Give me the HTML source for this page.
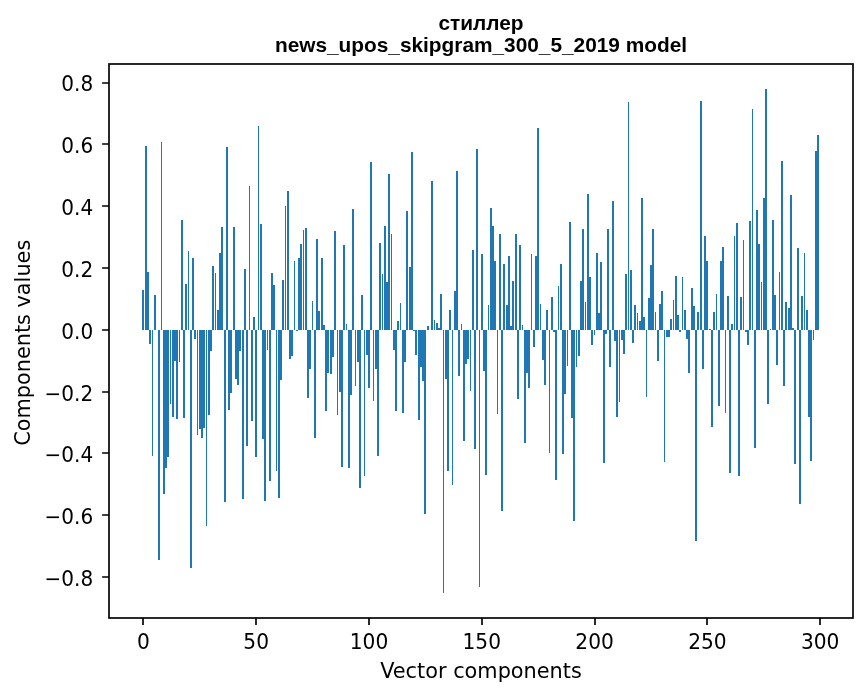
<!DOCTYPE html>
<html lang="ru"><head><meta charset="utf-8"><title>стиллер</title>
<style>html,body{margin:0;padding:0;background:#fff}svg{display:block;will-change:transform}.t{font-family:"DejaVu Sans","Liberation Sans",sans-serif;font-size:20.83px;fill:#000}.h{font-family:"Liberation Sans","DejaVu Sans",sans-serif;font-weight:bold;font-size:20.83px;fill:#000}</style></head><body>
<svg width="867" height="696" viewBox="0 0 867 696">
<rect width="867" height="696" fill="#fff"/>
<path fill="#1f77b4" shape-rendering="crispEdges" d="M142 290h2v40h-2zM145 146h2v184h-2zM147 272h2v58h-2zM149 330h2v14h-2zM152 330h1v126h-1zM154 295h2v35h-2zM158 330h2v230h-2zM161 142h1v188h-1zM163 330h2v164h-2zM165 330h2v138h-2zM167 330h2v127h-2zM170 330h1v74h-1zM172 330h2v87h-2zM174 330h2v31h-2zM176 330h2v89h-2zM179 330h1v32h-1zM181 220h2v110h-2zM183 330h2v88h-2zM185 284h2v46h-2zM188 251h1v79h-1zM190 330h2v238h-2zM192 258h2v72h-2zM194 330h2v9h-2zM197 330h1v105h-1zM199 330h2v99h-2zM201 330h2v108h-2zM203 330h2v98h-2zM206 330h1v196h-1zM208 330h2v85h-2zM210 330h2v21h-2zM212 266h2v64h-2zM215 273h1v57h-1zM217 310h2v20h-2zM219 253h2v77h-2zM221 227h2v103h-2zM224 330h2v172h-2zM226 147h2v183h-2zM228 330h2v80h-2zM230 330h2v63h-2zM233 227h2v103h-2zM235 330h2v49h-2zM237 330h2v55h-2zM239 330h2v21h-2zM242 330h2v169h-2zM244 269h2v61h-2zM246 330h2v116h-2zM249 186h1v144h-1zM251 330h2v91h-2zM253 317h2v13h-2zM255 330h2v127h-2zM258 126h1v204h-1zM260 224h2v106h-2zM262 330h2v109h-2zM264 330h2v171h-2zM267 330h1v20h-1zM269 330h2v151h-2zM271 273h2v57h-2zM273 285h2v45h-2zM276 330h1v141h-1zM278 330h2v168h-2zM280 330h2v50h-2zM282 280h2v50h-2zM285 206h1v124h-1zM287 191h2v139h-2zM289 330h2v29h-2zM291 330h2v26h-2zM294 261h1v69h-1zM296 330h2v1h-2zM298 258h2v72h-2zM300 244h2v86h-2zM303 230h1v100h-1zM305 228h2v102h-2zM307 330h2v68h-2zM309 330h2v39h-2zM312 301h1v29h-1zM314 330h2v108h-2zM316 239h2v91h-2zM318 311h2v19h-2zM321 258h2v72h-2zM323 325h2v5h-2zM325 330h2v81h-2zM327 330h2v43h-2zM330 330h2v44h-2zM332 330h2v27h-2zM334 231h2v99h-2zM337 330h1v85h-1zM339 330h2v62h-2zM341 330h2v137h-2zM343 245h2v85h-2zM346 324h1v6h-1zM348 330h2v138h-2zM350 330h2v65h-2zM352 209h2v121h-2zM355 330h1v56h-1zM357 330h2v32h-2zM359 330h2v158h-2zM361 295h2v35h-2zM364 330h1v146h-1zM366 330h2v25h-2zM368 330h2v58h-2zM370 162h2v168h-2zM373 330h1v71h-1zM375 330h2v39h-2zM377 330h2v126h-2zM379 243h2v87h-2zM382 274h1v56h-1zM384 226h2v104h-2zM386 282h2v48h-2zM388 174h2v156h-2zM391 234h1v96h-1zM393 330h2v20h-2zM395 330h2v81h-2zM397 321h2v9h-2zM400 303h1v27h-1zM402 330h2v83h-2zM404 330h2v32h-2zM406 211h2v119h-2zM409 267h2v63h-2zM411 152h2v178h-2zM413 330h2v1h-2zM415 330h2v25h-2zM418 330h2v90h-2zM420 330h2v37h-2zM422 330h2v51h-2zM424 330h2v184h-2zM427 326h2v4h-2zM431 181h2v149h-2zM434 320h1v10h-1zM436 323h2v7h-2zM438 328h2v2h-2zM440 294h2v36h-2zM443 330h1v263h-1zM445 330h2v49h-2zM447 330h2v141h-2zM449 310h2v20h-2zM452 330h1v155h-1zM454 291h2v39h-2zM456 171h2v159h-2zM458 330h2v46h-2zM461 324h1v6h-1zM463 330h2v111h-2zM465 330h2v34h-2zM467 330h2v29h-2zM470 330h1v61h-1zM472 250h2v80h-2zM474 330h2v119h-2zM476 149h2v181h-2zM479 330h1v257h-1zM481 254h2v76h-2zM483 330h2v41h-2zM485 330h2v145h-2zM488 305h1v25h-1zM490 208h2v122h-2zM492 226h2v104h-2zM494 261h2v69h-2zM497 330h1v84h-1zM499 234h2v96h-2zM501 330h2v181h-2zM503 264h2v66h-2zM506 305h2v25h-2zM508 256h2v74h-2zM510 326h2v4h-2zM512 281h2v49h-2zM515 234h2v96h-2zM517 330h2v69h-2zM519 245h2v85h-2zM522 325h1v5h-1zM524 330h2v113h-2zM526 330h2v43h-2zM528 330h2v58h-2zM531 254h1v76h-1zM533 330h2v17h-2zM535 256h2v74h-2zM537 128h2v202h-2zM540 304h1v26h-1zM542 330h2v30h-2zM544 330h2v55h-2zM546 310h2v20h-2zM549 330h1v123h-1zM551 297h2v33h-2zM553 330h2v2h-2zM555 330h2v150h-2zM558 286h1v44h-1zM560 264h2v66h-2zM562 330h2v124h-2zM564 330h2v64h-2zM567 330h1v36h-1zM569 222h2v108h-2zM571 330h2v88h-2zM573 330h2v191h-2zM576 330h1v37h-1zM578 330h2v26h-2zM580 281h2v49h-2zM582 229h2v101h-2zM585 302h1v28h-1zM587 194h2v136h-2zM589 277h2v53h-2zM591 330h2v15h-2zM594 330h1v5h-1zM596 253h2v77h-2zM598 313h2v17h-2zM600 262h2v68h-2zM603 330h2v133h-2zM605 330h2v4h-2zM607 229h2v101h-2zM609 330h2v37h-2zM612 201h2v129h-2zM614 330h2v11h-2zM616 330h2v87h-2zM619 330h1v72h-1zM621 330h2v10h-2zM623 330h2v24h-2zM625 274h2v56h-2zM628 102h1v228h-1zM630 270h2v60h-2zM632 330h2v13h-2zM634 305h2v25h-2zM637 313h1v17h-1zM639 321h2v9h-2zM641 198h2v132h-2zM643 317h2v13h-2zM646 330h1v67h-1zM648 298h2v32h-2zM650 265h2v65h-2zM652 229h2v101h-2zM655 312h1v18h-1zM657 330h2v31h-2zM659 304h2v26h-2zM661 291h2v39h-2zM664 330h1v132h-1zM666 330h2v7h-2zM668 330h2v7h-2zM670 319h2v11h-2zM673 300h1v30h-1zM675 276h2v54h-2zM677 315h2v15h-2zM679 330h2v2h-2zM682 277h1v53h-1zM684 310h2v20h-2zM686 330h2v9h-2zM688 330h2v43h-2zM691 288h2v42h-2zM693 306h2v24h-2zM695 330h2v211h-2zM697 312h2v18h-2zM700 101h2v229h-2zM702 330h2v39h-2zM704 236h2v94h-2zM706 261h2v69h-2zM709 329h2v1h-2zM711 330h2v97h-2zM713 312h2v18h-2zM716 294h1v36h-1zM718 330h2v76h-2zM720 261h2v69h-2zM722 247h2v83h-2zM725 330h1v83h-1zM727 296h2v34h-2zM729 330h2v143h-2zM731 324h2v6h-2zM734 236h1v94h-1zM736 223h2v107h-2zM738 330h2v146h-2zM740 297h2v33h-2zM743 240h1v90h-1zM745 330h2v2h-2zM747 330h2v15h-2zM749 221h2v109h-2zM752 109h1v221h-1zM754 330h2v118h-2zM756 210h2v120h-2zM758 244h2v86h-2zM761 282h1v48h-1zM763 198h2v132h-2zM765 89h2v241h-2zM767 330h2v74h-2zM770 329h1v1h-1zM772 220h2v110h-2zM774 295h2v35h-2zM776 330h2v35h-2zM779 272h1v58h-1zM781 161h2v169h-2zM783 330h2v56h-2zM785 302h2v28h-2zM788 308h2v22h-2zM790 195h2v135h-2zM792 328h2v2h-2zM794 330h2v134h-2zM797 248h2v82h-2zM799 330h2v174h-2zM801 296h2v34h-2zM804 253h1v77h-1zM806 310h2v20h-2zM808 330h2v87h-2zM810 330h2v131h-2zM813 330h1v10h-1zM815 151h2v179h-2zM817 135h2v195h-2z"/>
<path d="M143 618v6.9M256 618v6.9M369 618v6.9M482 618v6.9M595 618v6.9M707 618v6.9M820 618v6.9M109 83h-6.9M109 144h-6.9M109 206h-6.9M109 268h-6.9M109 330h-6.9M109 392h-6.9M109 453h-6.9M109 515h-6.9M109 577h-6.9" stroke="#000" stroke-width="1.667" fill="none"/>
<rect x="109" y="64" width="744" height="554" fill="none" stroke="#000" stroke-width="1.667" stroke-linejoin="miter"/>
<text class="t" transform="translate(143.39 648.5) scale(0.97 1)" text-anchor="middle">0</text>
<text class="t" transform="translate(256.19 648.5) scale(0.97 1)" text-anchor="middle">50</text>
<text class="t" transform="translate(368.99 648.5) scale(0.97 1)" text-anchor="middle">100</text>
<text class="t" transform="translate(481.79 648.5) scale(0.97 1)" text-anchor="middle">150</text>
<text class="t" transform="translate(594.6 648.5) scale(0.97 1)" text-anchor="middle">200</text>
<text class="t" transform="translate(707.4 648.5) scale(0.97 1)" text-anchor="middle">250</text>
<text class="t" transform="translate(820.2 648.5) scale(0.97 1)" text-anchor="middle">300</text>
<text class="t" transform="translate(93.2 90.8) scale(0.962 1)" text-anchor="end">0.8</text>
<text class="t" transform="translate(93.2 152.8) scale(0.962 1)" text-anchor="end">0.6</text>
<text class="t" transform="translate(93.2 214.8) scale(0.962 1)" text-anchor="end">0.4</text>
<text class="t" transform="translate(93.2 276.8) scale(0.962 1)" text-anchor="end">0.2</text>
<text class="t" transform="translate(93.2 338.8) scale(0.962 1)" text-anchor="end">0.0</text>
<text class="t" transform="translate(93.2 400.8) scale(0.962 1)" text-anchor="end">−0.2</text>
<text class="t" transform="translate(93.2 461.8) scale(0.962 1)" text-anchor="end">−0.4</text>
<text class="t" transform="translate(93.2 523.8) scale(0.962 1)" text-anchor="end">−0.6</text>
<text class="t" transform="translate(93.2 585.8) scale(0.962 1)" text-anchor="end">−0.8</text>
<text class="t" x="481" y="677.8" text-anchor="middle">Vector components</text>
<text class="t" transform="translate(29.9 342.8) rotate(-90)" text-anchor="middle">Components values</text>
<text class="h" x="481" y="29.9" text-anchor="middle">стиллер</text>
<text class="h" x="481" y="52" text-anchor="middle">news_upos_skipgram_300_5_2019 model</text>
</svg></body></html>
